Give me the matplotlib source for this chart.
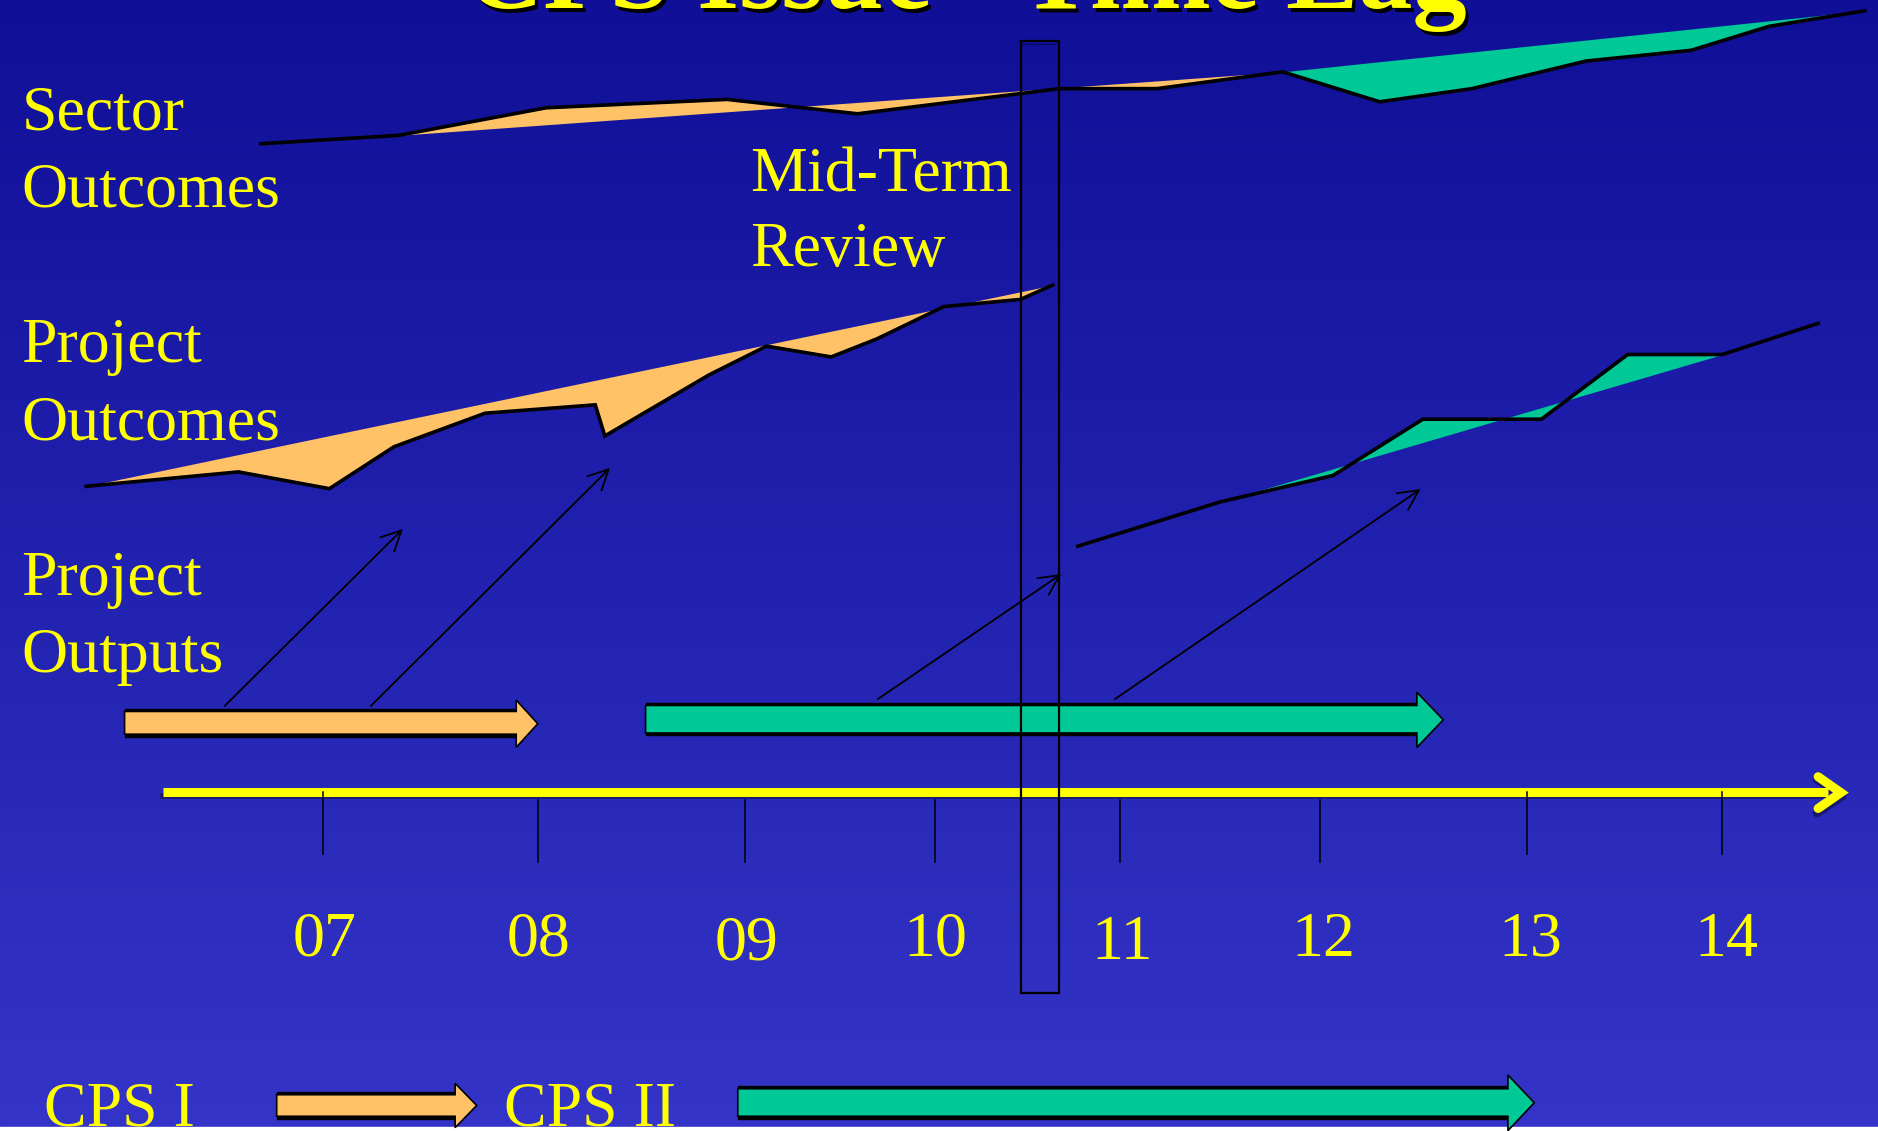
import numpy as np
import matplotlib
matplotlib.use("Agg")
import matplotlib.pyplot as plt
from matplotlib.patches import Polygon, Rectangle, FancyArrowPatch

# slide drawn in a 1568 x 944 "pixel" space, y going down
W, H = 1568, 944.3

# Sector outcomes line + which vertices the straight trend joins
sector_x = [218, 333, 456, 607, 716, 885, 966, 1071, 1152, 1229, 1324, 1412, 1477, 1557]
sector_y = [120, 113, 90, 83, 95, 74, 74, 60, 85, 74, 51, 42, 22, 9]
sector_spans = [(1, 7, "orange"), (7, 13, "green")]

# Project outcomes, CPS I then CPS II
proj1_x = [72, 199, 275, 329, 405, 497, 505, 592, 640, 694, 732, 788, 852, 879]
proj1_y = [406, 394, 408, 373, 345, 338, 364, 313, 289, 298, 283, 256, 250, 238]
proj1_spans = [(0, 13, "orange")]

proj2_x = [900, 1019, 1113, 1188, 1287, 1359, 1438, 1518]
proj2_y = [456, 419, 397, 350, 350, 296, 296, 270]
proj2_spans = [(1, 6, "green")]

# outputs -> outcomes arrows
link_start = [(186, 591), (308, 591), (731, 585), (929, 585)]
link_end = [(338, 440), (511, 389), (888, 478), (1188, 407)]

# block arrows: start, body end, tip, body top, body bottom, head top, head bottom
output_arrows = [
    (104, 431, 449, 594, 613, 584.5, 624, "orange"),
    (539, 1183, 1205, 589, 612, 578, 624, "green"),
]
cps_arrows = [
    (231, 380, 398, 914, 932, 904.5, 941.5, "orange"),
    (616, 1259, 1281, 909, 932, 897.5, 944, "green"),
]

years = ["07", "08", "09", "10", "11", "12", "13", "14"]
tick_x = [270, 449, 622, 781, 935, 1102, 1275, 1438]
tick_top = [661, 668, 668, 668, 668, 668, 661, 661]
tick_bot = [713, 720, 720, 720, 720, 720, 713, 713]
label_x = [271, 450, 623, 781, 937, 1105, 1278, 1441]
label_base = [798, 798, 801, 798, 801, 798, 798, 798]

COLORS = {"orange": "#ffc266", "green": "#00c896"}
YEL = "#ffff00"
FONT = "Liberation Serif"
FS = 46

fig = plt.figure(figsize=(18.78, 11.31), dpi=100)
ax = fig.add_axes([0, 0, 1, 1])
ax.set_xlim(0, W)
ax.set_ylim(H, 0)
ax.axis("off")

# background gradient
top = np.array([0x0f, 0x0f, 0x97]) / 255
bot = np.array([0x34, 0x34, 0xc8]) / 255
t = np.linspace(0, 1, 256)[:, None, None]
grad = top * (1 - t) + bot * t
ax.imshow(grad, extent=[0, W, H, 0], aspect="auto", zorder=0)
ax.add_patch(Rectangle((0, 941), W, 5, color="white", zorder=0.5))


def trend_line(xs, ys, spans):
    xs = np.asarray(xs, float)
    ys = np.asarray(ys, float)
    for i0, i1, c in spans:
        sx = xs[i0:i1 + 1]
        sy = ys[i0:i1 + 1]
        tr = np.interp(sx, [xs[i0], xs[i1]], [ys[i0], ys[i1]])
        ax.fill_between(sx, sy, tr, color=COLORS[c], lw=0, zorder=2)
    ax.plot(xs, ys, color="black", lw=2.6, solid_joinstyle="miter", zorder=3)


trend_line(sector_x, sector_y, sector_spans)
trend_line(proj1_x, proj1_y, proj1_spans)
trend_line(proj2_x, proj2_y, proj2_spans)

for p0, p1 in zip(link_start, link_end):
    ax.add_patch(FancyArrowPatch(p0, p1, arrowstyle="->,head_length=0.6,head_width=0.3",
                                 mutation_scale=24, color="black", lw=1.3, zorder=4))


def block_arrow(x0, x1, xt, yt, yb, ht, hb, c):
    ym = (ht + hb) / 2
    pts = [(x0, yt), (x1, yt), (x1, ht), (xt, ym), (x1, hb), (x1, yb), (x0, yb)]
    ax.add_patch(Rectangle((x0, yt - 2), x1 - x0, yb - yt + 4, color="black", zorder=4))
    ax.add_patch(Polygon(pts, closed=True, facecolor=COLORS[c], edgecolor="black",
                         lw=1.2, joinstyle="miter", zorder=5))


for a in output_arrows + cps_arrows:
    block_arrow(*a)

# time axis
ax.plot([136, 1524], [665, 665], color="#14145a", lw=4, zorder=5, alpha=0.8)
ax.plot([1517, 1538, 1517], [651, 665, 679], color="#14145a", lw=6, zorder=5, alpha=0.8,
        solid_capstyle="round")
ax.plot([136, 1526], [661.5, 661.5], color=YEL, lw=6.5, zorder=6, solid_capstyle="butt")
ax.plot([1518, 1537, 1518], [648.5, 661.8, 675], color=YEL, lw=6.5, zorder=6,
        solid_capstyle="round", solid_joinstyle="miter")

for x, y0, y1 in zip(tick_x, tick_top, tick_bot):
    ax.plot([x, x], [y0, y1], color="black", lw=1.1, zorder=7)
for x, yb, lab in zip(label_x, label_base, years):
    ax.text(x, yb, lab, color=YEL, fontsize=FS, family=FONT, ha="center", va="baseline", zorder=7)

# mid-term review box
ax.add_patch(Rectangle((852.5, 34.5), 31.5, 794.5, fill=False, edgecolor="black", lw=1.6, zorder=8))
ax.plot([853, 883], [37, 37], color="black", lw=0.8, ls=":", zorder=8)

# row labels
labels = [
    (18, 108, "Sector"), (18, 172, "Outcomes"),
    (18, 302, "Project"), (18, 367, "Outcomes"),
    (18, 497, "Project"), (18, 561, "Outputs"),
    (626, 160, "Mid-Term"), (626, 222, "Review"),
    (37, 940, "CPS I"), (421, 940, "CPS II"),
]
for x, y, s in labels:
    ax.text(x, y, s, color=YEL, fontsize=FS, family=FONT, ha="left", va="baseline", zorder=9)

# title, mostly cut off at the top
title = "CPS Issue - Time Lag"
ax.text(809, 10, title, color="black", fontsize=78, family=FONT, weight="bold",
        ha="center", va="baseline", zorder=9)
ax.text(806, 7, title, color=YEL, fontsize=78, family=FONT, weight="bold",
        ha="center", va="baseline", zorder=10)

fig.savefig("out.png", dpi=100)
